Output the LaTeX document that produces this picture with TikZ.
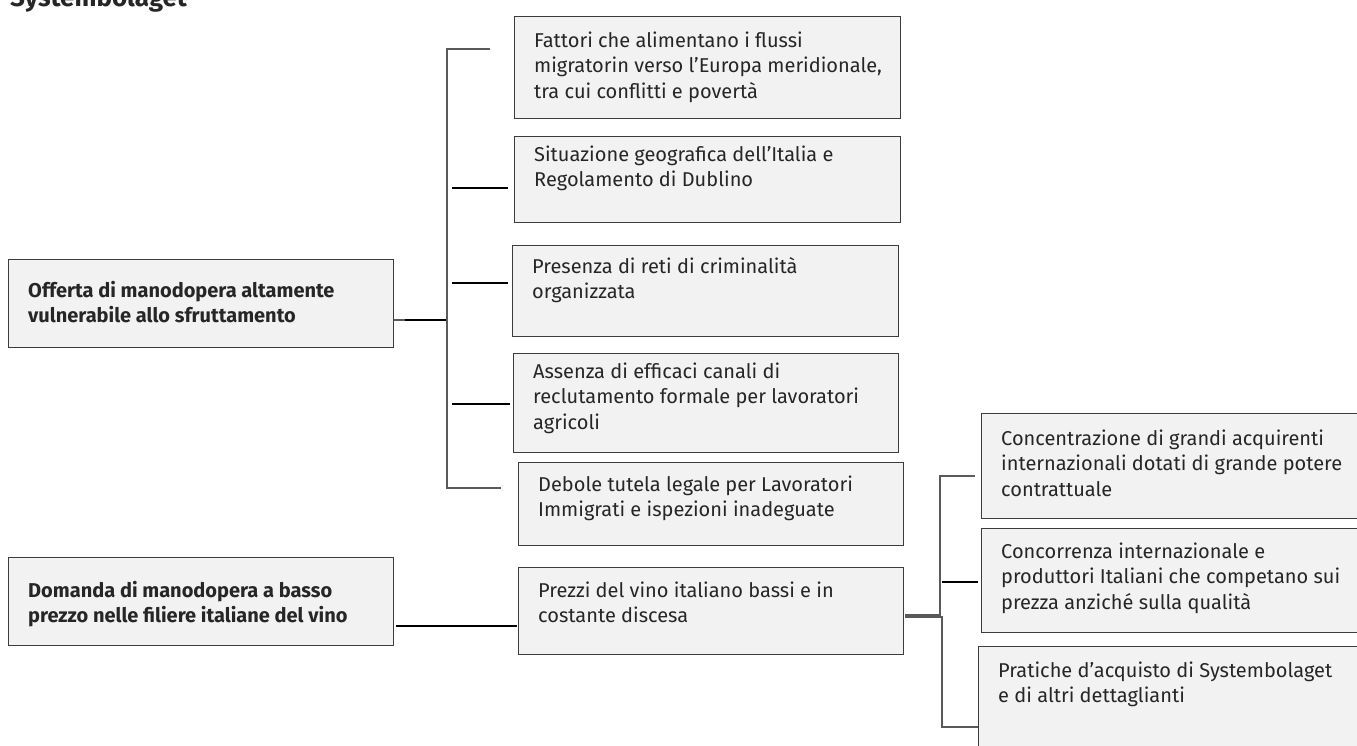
\documentclass[tikz,border=0pt]{standalone}
\usepackage{fontspec}
\setmainfont{Fira Sans}
\usetikzlibrary{calc}
\definecolor{boxfill}{HTML}{F2F2F2}
\definecolor{boxline}{HTML}{3C3C3C}
\definecolor{txtcol}{HTML}{262626}
\definecolor{linegray}{HTML}{5A5A5A}
\tikzset{
  cbox/.style={draw=boxline, fill=boxfill, line width=1.3pt, inner sep=0pt, anchor=north west, rectangle},
  ctext/.style={anchor=north west, inner sep=0pt, align=left, text=txtcol, font=\fontsize{20}{25.5}\selectfont},
  htext/.style={anchor=north west, inner sep=0pt, align=left, text=txtcol, font=\fontsize{20}{25.5}\selectfont\bfseries},
  blk/.style={draw=black, line width=2pt},
  gry/.style={draw=linegray, line width=1.4pt},
}
\newcommand\fs{\rule{0pt}{18pt}}
\begin{document}
\begin{tikzpicture}[x=1pt,y=-1pt]
\useasboundingbox (0,0) rectangle (1357,745);
\fill[white] (0,0) rectangle (1357,745);
\node[anchor=base west, inner sep=0pt, font=\fontsize{26}{30}\selectfont\bfseries, text=txtcol] (title) at (10,6) {Systembolaget};

% boxes
\node[cbox, minimum width=385pt, minimum height=88pt] (off) at (8,259) {};
\node[cbox, minimum width=385pt, minimum height=88pt] (dom) at (8,557) {};
\node[cbox, minimum width=386pt, minimum height=102pt] (b1) at (514,16) {};
\node[cbox, minimum width=386pt, minimum height=86pt] (b2) at (514,136) {};
\node[cbox, minimum width=386pt, minimum height=91pt] (b3) at (512,245) {};
\node[cbox, minimum width=385pt, minimum height=99pt] (b4) at (513,353) {};
\node[cbox, minimum width=385pt, minimum height=83pt] (b5) at (518,462) {};
\node[cbox, minimum width=385pt, minimum height=87pt] (pz) at (518,567) {};
\node[cbox, minimum width=390pt, minimum height=105pt] (r1) at (981,413) {};
\node[cbox, minimum width=390pt, minimum height=104pt] (r2) at (981,528) {};
\node[cbox, minimum width=390pt, minimum height=115pt] (r3) at (978,646) {};

% texts
\node[htext] (toff) at (28,279) {\fs Offerta di manodopera altamente\\vulnerabile allo sfruttamento};
\node[htext] (tdom) at (28,579) {\fs Domanda di manodopera a basso\\prezzo nelle filiere italiane del vino};
\node[ctext] (tb1) at (534,29) {\fs Fattori che alimentano i flussi\\migratorin verso l’Europa meridionale,\\tra cui conflitti e povertà};
\node[ctext] (tb2) at (534,143) {\fs Situazione geografica dell’Italia e\\Regolamento di Dublino};
\node[ctext] (tb3) at (532,255) {\fs Presenza di reti di criminalità\\organizzata};
\node[ctext] (tb4) at (533,360) {\fs Assenza di efficaci canali di\\reclutamento formale per lavoratori\\agricoli};
\node[ctext] (tb5) at (538,473) {\fs Debole tutela legale per Lavoratori\\Immigrati e ispezioni inadeguate};
\node[ctext] (tpz) at (538,579) {\fs Prezzi del vino italiano bassi e in\\costante discesa};
\node[ctext] (tr1) at (1001,427) {\fs Concentrazione di grandi acquirenti\\internazionali dotati di grande potere\\contrattuale};
\node[ctext] (tr2) at (1001,540) {\fs Concorrenza internazionale e\\produttori Italiani che competano sui\\prezza anziché sulla qualità};
\node[ctext] (tr3) at (998,659) {\fs Pratiche d’acquisto di Systembolaget\\e di altri dettaglianti};

% bracket 1
\coordinate (j1) at (447,320);
\coordinate (j1a) at (405,320);
\coordinate (k1) at (447,49);
\coordinate (k1e) at (490,49);
\coordinate (k2) at (447,488);
\coordinate (k2e) at (501,488);
\draw[gry] (off.east |- j1) -- (j1);
\draw[blk] (j1a) -- (j1);
\draw[gry] (k1e) -- (k1) -- (k2) -- (k2e);
\draw[blk] (452,188) -- ([xshift=-6pt]b2.west |- 0,188);
\draw[blk] (452,283) -- ([xshift=-4pt]b3.west |- 0,283);
\draw[blk] (452,404) -- ([xshift=-3pt]b4.west |- 0,404);

% Domanda -> Prezzi
\coordinate (d1) at (396,626);
\draw[blk] (d1) -- ([xshift=-1pt]pz.west |- d1);

% bracket 2
\coordinate (pa) at (905,615);
\coordinate (pb) at (905,617);
\draw[gry] (pa) -- (940,615) -- (940,476) -- ([xshift=-6pt]r1.west |- 0,476);
\draw[gry] (pb) -- (942,617) -- (942,727) -- (r3.west |- 0,727);
\draw[blk] (942,582) -- ([xshift=-3pt]r2.west |- 0,582);
\end{tikzpicture}
\end{document}
